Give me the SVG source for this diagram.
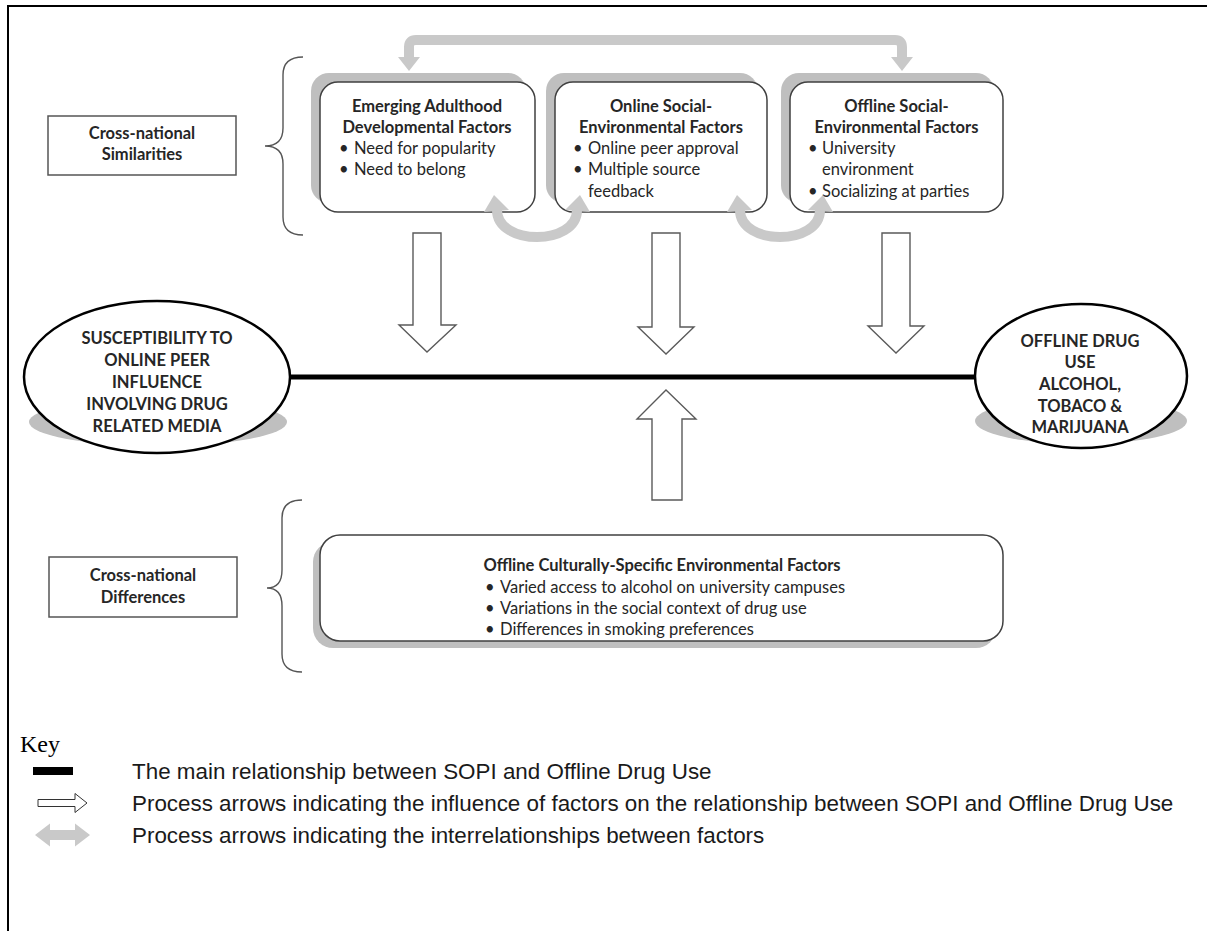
<svg xmlns="http://www.w3.org/2000/svg" width="1207" height="931" viewBox="0 0 1207 931">
<style>
.t{font-family:Lato,"Open Sans","Liberation Sans",sans-serif;font-size:16.5px;fill:#262626}
.b{font-weight:bold}
.c{text-anchor:middle}
.box{fill:#fff;stroke:#404040;stroke-width:1.5}
.lbl{fill:#fff;stroke:#555;stroke-width:1.5}
.sh{fill:#bfbfbf}
.pa{fill:#fff;stroke:#5a5a5a;stroke-width:1.4}
.ga{fill:#c9c9c9}
.gl{fill:none;stroke:#c9c9c9;stroke-width:10}
.br{fill:none;stroke:#555;stroke-width:1.4}
.k{font-family:"Liberation Sans",Arial,sans-serif;font-size:22.4px;fill:#1a1a1a}
.el{fill:#fff;stroke:#000;stroke-width:2.5}
</style>
<rect width="1207" height="931" fill="#fff"/>
<path d="M8,931 V6 H1207" fill="none" stroke="#000" stroke-width="2"/>

<g id="similarities">
<rect class="lbl" x="48" y="116" width="188" height="59"/>
<text class="t b c" x="142" y="139">Cross-national</text>
<text class="t b c" x="142" y="160">Similarities</text>
<path class="br" d="M303,57 Q283,57 283,75 V128 Q283,146 265,146 Q283,146 283,164 V217 Q283,235 303,235"/>
</g>

<g id="box-emerging">
<rect class="sh" x="311" y="73" width="215" height="130" rx="18"/>
<rect class="box" x="320" y="82" width="215" height="130" rx="18"/>
<text class="t b c" x="427" y="112">Emerging Adulthood</text>
<text class="t b c" x="427" y="133">Developmental Factors</text>
<text class="t" x="339" y="154">•</text><text class="t" x="354" y="154">Need for popularity</text>
<text class="t" x="339" y="175">•</text><text class="t" x="354" y="175">Need to belong</text>
</g>

<g id="box-online">
<rect class="sh" x="546" y="73" width="212" height="130" rx="18"/>
<rect class="box" x="555" y="82" width="212" height="130" rx="18"/>
<text class="t b c" x="661" y="112">Online Social-</text>
<text class="t b c" x="661" y="133">Environmental Factors</text>
<text class="t" x="573" y="154">•</text><text class="t" x="588" y="154">Online peer approval</text>
<text class="t" x="573" y="175">•</text><text class="t" x="588" y="175">Multiple source</text>
<text class="t" x="588" y="197">feedback</text>
</g>

<g id="box-offline">
<rect class="sh" x="781" y="73" width="213" height="130" rx="18"/>
<rect class="box" x="790" y="82" width="213" height="130" rx="18"/>
<text class="t b c" x="896.5" y="112">Offline Social-</text>
<text class="t b c" x="896.5" y="133">Environmental Factors</text>
<text class="t" x="808" y="154">•</text><text class="t" x="822" y="154">University</text>
<text class="t" x="822" y="175">environment</text>
<text class="t" x="808" y="197">•</text><text class="t" x="822" y="197">Socializing at parties</text>
</g>

<g id="sopi">
<ellipse class="sh" cx="158" cy="422" rx="129" ry="24"/>
<ellipse class="el" cx="157" cy="377" rx="133" ry="76"/>
<text class="t b c" x="157" y="344">SUSCEPTIBILITY TO</text>
<text class="t b c" x="157" y="366">ONLINE PEER</text>
<text class="t b c" x="157" y="388">INFLUENCE</text>
<text class="t b c" x="157" y="410">INVOLVING DRUG</text>
<text class="t b c" x="157" y="432">RELATED MEDIA</text>
</g>

<g id="drug-use">
<ellipse class="sh" cx="1081" cy="421" rx="106" ry="23"/>
<ellipse class="el" cx="1081" cy="376" rx="106" ry="72"/>
<text class="t b c" x="1080" y="347">OFFLINE DRUG</text>
<text class="t b c" x="1080" y="368">USE</text>
<text class="t b c" x="1080" y="390">ALCOHOL,</text>
<text class="t b c" x="1080" y="412">TOBACO &amp;</text>
<text class="t b c" x="1080" y="433">MARIJUANA</text>
</g>

<g id="differences">
<rect class="lbl" x="49" y="557" width="188" height="60"/>
<text class="t b c" x="143" y="580.5">Cross-national</text>
<text class="t b c" x="143" y="602.5">Differences</text>
<path class="br" d="M302,500 Q282,500 282,518 V570 Q282,588 267,588 Q282,588 282,606 V654 Q282,672 302,672"/>
</g>

<g id="box-cultural">
<rect class="sh" x="313" y="542" width="683" height="106" rx="20"/>
<rect class="box" x="320" y="535" width="683" height="106" rx="20"/>
<text class="t b c" x="662" y="570.5">Offline Culturally-Specific Environmental Factors</text>
<text class="t" x="485" y="592.5">•</text><text class="t" x="500" y="592.5">Varied access to alcohol on university campuses</text>
<text class="t" x="485" y="613.5">•</text><text class="t" x="500" y="613.5">Variations in the social context of drug use</text>
<text class="t" x="485" y="634.5">•</text><text class="t" x="500" y="634.5">Differences in smoking preferences</text>
</g>

<g id="connectors">
<path class="gl" d="M409,60 V47 Q409,40 416,40 H895 Q902,40 902,47 V60" stroke-width="8"/>
<polygon class="ga" points="398,57 420,57 409,71"/>
<polygon class="ga" points="891,57 913,57 902,71"/>
<path class="gl" d="M497,210 C497,246 577,246 577,210"/>
<polygon class="ga" points="484,212 509,210 494,195"/>
<polygon class="ga" points="565,210 590,212 580,195"/>
<path class="gl" d="M740,210 C740,246 820,246 820,210"/>
<polygon class="ga" points="727,212 752,210 737,195"/>
<polygon class="ga" points="808,210 833,212 823,195"/>
<polygon class="pa" points="413,233 441,233 441,325 456,325 427,352 399,325 413,325"/>
<polygon class="pa" points="652,233 680,233 680,327 694,327 666,354 638,327 652,327"/>
<polygon class="pa" points="882,233 910,233 910,326 924,326 896,353 868,326 882,326"/>
<polygon class="pa" points="666,390 696,419 682,419 682,500 652,500 652,419 637,419"/>
<line x1="290" y1="377" x2="975" y2="377" stroke="#000" stroke-width="5"/>
</g>

<g id="key">
<text x="20" y="752" font-family="'Liberation Serif','Times New Roman',serif" font-size="24" fill="#000">Key</text>
<rect x="33" y="767" width="40" height="8" fill="#000"/>
<text class="k" x="132" y="779">The main relationship between SOPI and Offline Drug Use</text>
<polygon points="38,799.5 75,799.5 75,793.5 87,803 75,812.5 75,806.5 38,806.5" fill="#fff" stroke="#333" stroke-width="1"/>
<text class="k" x="132" y="811">Process arrows indicating the influence of factors on the relationship between SOPI and Offline Drug Use</text>
<polygon class="ga" points="35,835 50,823.5 50,830 75,830 75,823.5 90,835 75,846.5 75,840 50,840 50,846.5"/>
<text class="k" x="132" y="843">Process arrows indicating the interrelationships between factors</text>
</g>
</svg>
